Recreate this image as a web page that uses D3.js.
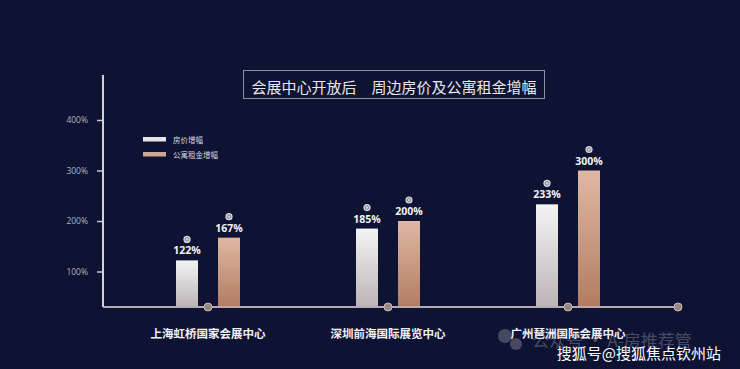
<!DOCTYPE html>
<html>
<head>
<meta charset="utf-8">
<script src="https://cdn.jsdelivr.net/npm/d3@7"></script>
<style>
    body { margin: 0; background: #0e1233; }
    svg { display: block; }
</style>
</head>
<body>
<div></div>
<script>
let categories = ["上海虹桥国家会展中心", "深圳前海国际展览中心", "广州琶洲国际会展中心"];
let series = ["房价增幅", "公寓租金增幅"];
let priceGrowth = [122, 185, 233];
let rentGrowth = [167, 200, 300];
let yTicks = [100, 200, 300, 400];

let dimension = {
    width: 740,
    height: 369,
    margin: { top: 75, left: 103, right: 62, bottom: 62 }
};
let baseY = dimension.height - dimension.margin.bottom; // x axis line

let svg = d3.select("div")
    .append("svg")
    .attr("width", dimension.width)
    .attr("height", dimension.height);

svg.append("rect")
    .attr("width", dimension.width)
    .attr("height", dimension.height)
    .attr("fill", "#0e1233");

let defs = svg.append("defs");
let gWhite = defs.append("linearGradient").attr("id", "gWhite")
    .attr("x1", 0).attr("y1", 0).attr("x2", 0).attr("y2", 1);
gWhite.append("stop").attr("offset", "0%").attr("stop-color", "#f4f4f4");
gWhite.append("stop").attr("offset", "100%").attr("stop-color", "#bcb4b6");
let gTan = defs.append("linearGradient").attr("id", "gTan")
    .attr("x1", 0).attr("y1", 0).attr("x2", 0).attr("y2", 1);
gTan.append("stop").attr("offset", "0%").attr("stop-color", "#dfb8a2");
gTan.append("stop").attr("offset", "100%").attr("stop-color", "#b27c62");
let fills = ["url(#gWhite)", "url(#gTan)"];

let Y = d3.scaleLinear()
    .domain([0, 400])
    .range([322, 120]);

let X = d3.scaleBand()
    .domain(categories)
    .range([118, 658]);

let inner = d3.scaleBand()
    .domain(series)
    .range([-32, 32])
    .paddingInner(0.476);

// title box
svg.append("rect")
    .attr("x", 243.5).attr("y", 70.5)
    .attr("width", 301).attr("height", 28)
    .attr("fill", "none")
    .attr("stroke", "#8a8fa8")
    .attr("stroke-width", 1);
svg.append("text")
    .attr("x", 394).attr("y", 92.5)
    .attr("text-anchor", "middle")
    .attr("fill", "#e8e8ee")
    .style("font-family", "'Noto Sans CJK SC', sans-serif")
    .style("font-size", "15px")
    .text("会展中心开放后\u3000周边房价及公寓租金增幅");

// y axis
let Yaxis = d3.axisLeft(Y).tickValues(yTicks).tickSize(6).tickPadding(9)
    .tickFormat(d => d + "%");
let yg = svg.append("g")
    .attr("class", "axis y-axis")
    .attr("transform", "translate(" + dimension.margin.left + ",0)")
    .call(Yaxis);
yg.select(".domain").remove();
yg.selectAll("line").attr("stroke", "#cfc6c8").attr("stroke-width", 1.5);
yg.selectAll("text")
    .attr("fill", "#b4b2be")
    .style("font-family", "'Open Sans', sans-serif")
    .style("font-size", "8.5px");

svg.append("line")
    .attr("x1", dimension.margin.left).attr("x2", dimension.margin.left)
    .attr("y1", dimension.margin.top).attr("y2", baseY)
    .attr("stroke", "#d8d0d2")
    .attr("stroke-width", 2);

// bars
let rows = categories.map((c, i) => ({ cat: c, values: [priceGrowth[i], rentGrowth[i]] }));
let groups = svg.selectAll(".grp")
    .data(rows)
    .enter()
    .append("g")
    .attr("class", "grp")
    .attr("transform", d => "translate(" + (X(d.cat) + X.bandwidth() / 2) + ",0)");

groups.selectAll("rect")
    .data(d => d.values.map((v, j) => ({ s: series[j], v: v, j: j })))
    .enter()
    .append("rect")
    .attr("x", d => inner(d.s))
    .attr("y", d => Y(d.v))
    .attr("width", inner.bandwidth())
    .attr("height", d => baseY - Y(d.v))
    .attr("fill", d => fills[d.j]);

groups.selectAll(".val")
    .data(d => d.values.map((v, j) => ({ s: series[j], v: v })))
    .enter()
    .append("text")
    .attr("class", "val")
    .attr("x", d => inner(d.s) + inner.bandwidth() / 2)
    .attr("y", d => Y(d.v) - 6)
    .attr("text-anchor", "middle")
    .attr("fill", "#f2f2f2")
    .style("font-family", "'Open Sans', sans-serif")
    .style("font-weight", "bold")
    .style("font-size", "10.5px")
    .text(d => d.v + "%");

let icons = groups.selectAll(".icon")
    .data(d => d.values.map((v, j) => ({ s: series[j], v: v })))
    .enter()
    .append("g")
    .attr("class", "icon")
    .attr("transform", d => "translate(" + (inner(d.s) + inner.bandwidth() / 2) + "," + (Y(d.v) - 21) + ")");
icons.append("circle")
    .attr("r", 3.6)
    .attr("fill", "#d6d6dc");
icons.append("circle")
    .attr("r", 1.8)
    .attr("fill", "none")
    .attr("stroke", "#6a6a78")
    .attr("stroke-width", 0.8);

// x axis line and dots
svg.append("line")
    .attr("x1", dimension.margin.left).attr("x2", 678)
    .attr("y1", baseY).attr("y2", baseY)
    .attr("stroke", "#b9a9ab")
    .attr("stroke-width", 2);

let dotX = categories.map(c => X(c) + X.bandwidth() / 2).concat([678]);
svg.selectAll(".dot")
    .data(dotX)
    .enter()
    .append("circle")
    .attr("class", "dot")
    .attr("cx", d => d)
    .attr("cy", baseY)
    .attr("r", 4)
    .attr("fill", "#978684")
    .attr("stroke", "#c9b9b5")
    .attr("stroke-width", 1);

svg.selectAll(".cat")
    .data(categories)
    .enter()
    .append("text")
    .attr("class", "cat")
    .attr("x", d => X(d) + X.bandwidth() / 2)
    .attr("y", 338)
    .attr("text-anchor", "middle")
    .attr("fill", "#f0f0f4")
    .style("font-family", "'Noto Sans CJK SC', sans-serif")
    .style("font-weight", "bold")
    .style("font-size", "11.5px")
    .text(d => d);

// legend
let legend = svg.append("g").attr("transform", "translate(143,137)");
legend.selectAll("rect")
    .data(series)
    .enter()
    .append("rect")
    .attr("x", 0)
    .attr("y", (d, i) => i * 15)
    .attr("width", 23)
    .attr("height", 4.5)
    .attr("fill", (d, i) => i == 0 ? "#e6e6ea" : "#cda790");
legend.selectAll("text")
    .data(series)
    .enter()
    .append("text")
    .attr("x", 30)
    .attr("y", (d, i) => i * 15 + 5.5)
    .attr("fill", "#d4d4e0")
    .style("font-family", "'Noto Sans CJK SC', sans-serif")
    .style("font-size", "7.5px")
    .text(d => d);

// watermarks
let wm = svg.append("g").attr("opacity", 0.3);
wm.append("circle").attr("cx", 505).attr("cy", 336).attr("r", 7).attr("fill", "#c8c8d0");
wm.append("circle").attr("cx", 516).attr("cy", 344).attr("r", 6).attr("fill", "#c8c8d0");
wm.append("text")
    .attr("x", 532).attr("y", 347)
    .attr("fill", "#c8c8d0")
    .style("font-family", "'Noto Sans CJK SC', sans-serif")
    .style("font-size", "17px")
    .text("公众号 · A-房推荐管");

svg.append("text")
    .attr("x", 721).attr("y", 359)
    .attr("text-anchor", "end")
    .attr("fill", "#ffffff")
    .style("font-family", "'Noto Sans CJK SC', sans-serif")
    .style("font-size", "15px")
    .text("搜狐号@搜狐焦点钦州站");
</script>
</body>
</html>
